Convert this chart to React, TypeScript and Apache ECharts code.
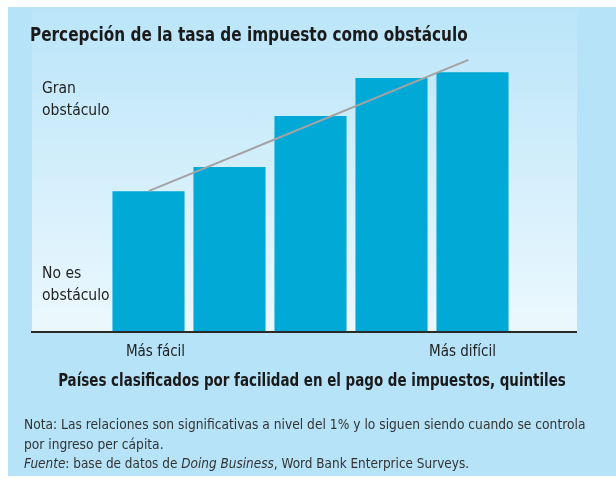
import React, { useEffect, useRef } from "react";
import * as echarts from "echarts";

const categories = ["Q1", "Q2", "Q3", "Q4", "Q5"];
const tickLabels = ["Más fácil", "", "", "", "Más difícil"];
const barValues = [49.6, 58.1, 76.1, 89.4, 91.5];
const trendX = [0, 3.95];
const trendY = [49.6, 95.8];
const yLabelTop = "Gran\nobstáculo";
const yLabelBottom = "No es\nobstáculo";
const title = "Percepción de la tasa de impuesto como obstáculo";
const xTitle = "Países clasificados por facilidad en el pago de impuestos, quintiles";
const noteLine1 = "Nota: Las relaciones son significativas a nivel del 1% y lo siguen siendo cuando se controla";
const noteLine2 = "por ingreso per cápita.";

const FONT = "'DejaVu Sans Condensed', 'Noto Sans', sans-serif";

export default function App() {
  const ref = useRef<HTMLDivElement>(null);
  useEffect(() => {
    if (!ref.current) return;
    const chart = echarts.init(ref.current, undefined, { renderer: "svg" });
    const gridTop = 48;
    const gridBottomY = 332;
    chart.setOption({
      animation: false,
      textStyle: { fontFamily: FONT },
      grid: { left: 108, right: 103, top: gridTop, bottom: 479 - gridBottomY, containLabel: false },
      xAxis: [
        {
          type: "category",
          data: categories,
          axisLine: { show: false },
          axisTick: { show: false },
          axisLabel: {
            show: true,
            interval: 0,
            fontFamily: FONT,
            fontSize: 15,
            color: "#222",
            margin: 11,
            formatter: (_v: string, i: number) => {
              const t = tickLabels[i];
              if (!t) return "";
              return i === 0 ? `{l|${t}}` : `{r|${t}}`;
            },
            rich: {
              l: { fontFamily: FONT, fontSize: 15, color: "#222", padding: [0, 0, 0, 14] },
              r: { fontFamily: FONT, fontSize: 15, color: "#222", padding: [0, 20, 0, 0] },
            },
          },
        },
        {
          type: "value",
          min: -0.5,
          max: 4.5,
          show: false,
        },
      ],
      yAxis: {
        type: "value",
        min: 0,
        max: 100,
        show: false,
      },
      graphic: [
        { type: "rect", z: -10, silent: true, shape: { x: 0, y: 0, width: 616, height: 479 }, style: { fill: "#ffffff" } },
        { type: "rect", z: -9, silent: true, shape: { x: 8, y: 7, width: 608, height: 469 }, style: { fill: "#b6e3f8" } },
        {
          type: "rect",
          z: -8,
          silent: true,
          shape: { x: 32, y: 7, width: 545, height: 325 },
          style: {
            fill: new echarts.graphic.LinearGradient(0, 0, 0, 1, [
              { offset: 0, color: "#bae5f9" },
              { offset: 1, color: "#ecf8fe" },
            ]),
          },
        },
        { type: "line", z: 10, silent: true, shape: { x1: 31, y1: 332, x2: 577, y2: 332 }, style: { stroke: "#2a2a2a", lineWidth: 2 } },
        {
          type: "text", x: 30, y: 24, scaleX: 0.85,
          style: { text: title, font: `bold 20px ${FONT}`, fill: "#1a1a1a", verticalAlign: "top" },
        },
        {
          type: "text", x: 42, y: 76, scaleX: 0.97,
          style: { text: yLabelTop, font: `16px ${FONT}`, fill: "#222", lineHeight: 22, verticalAlign: "top" },
        },
        {
          type: "text", x: 42, y: 261, scaleX: 0.97,
          style: { text: yLabelBottom, font: `16px ${FONT}`, fill: "#222", lineHeight: 22, verticalAlign: "top" },
        },
        {
          type: "text", x: 312, y: 372, scaleX: 0.88,
          style: { text: xTitle, font: `bold 17px ${FONT}`, fill: "#1a1a1a", align: "center", verticalAlign: "top" },
        },
        {
          type: "text", x: 24, y: 414, scaleX: 0.977,
          style: { text: noteLine1 + "\n" + noteLine2, font: `14px ${FONT}`, fill: "#333", lineHeight: 20, verticalAlign: "top" },
        },
        {
          type: "text", x: 24, y: 456, scaleX: 0.96,
          style: {
            text: "{i|Fuente}: base de datos de {i|Doing Business}, Word Bank Enterprice Surveys.",
            font: `14px ${FONT}`,
            fill: "#333",
            verticalAlign: "top",
            rich: { i: { fontStyle: "italic", fontFamily: FONT, fontSize: 14, fill: "#333" } },
          },
        },
      ],
      series: [
        {
          type: "bar",
          data: barValues,
          xAxisIndex: 0,
          barCategoryGap: "11%",
          itemStyle: { color: "#00a9d6" },
          silent: true,
        },
        {
          type: "line",
          xAxisIndex: 1,
          data: trendX.map((x, i) => [x, trendY[i]]),
          symbol: "none",
          lineStyle: { color: "#a3a3a3", width: 2 },
          z: 5,
          silent: true,
        },
      ],
    });
    return () => chart.dispose();
  }, []);
  return <div ref={ref} style={{ position: "fixed", left: 0, top: 0, width: 616, height: 479 }} />;
}
